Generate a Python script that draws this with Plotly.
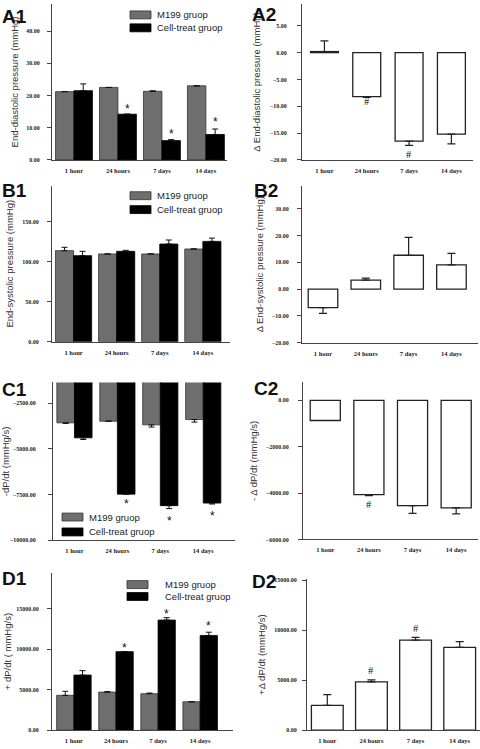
import plotly.graph_objects as go

W, H = 480, 749

# ---------------- data ----------------
categories = ["1 hour", "24 hours", "7 days", "14 days"]
group_names = ["M199 gruop", "Cell-treat gruop"]

# A1: end-diastolic pressure (mmHg)
a1_m199 = [21.2, 22.5, 21.3, 23.0]
a1_m199_err = [0.0, 0.0, 0.15, 0.0]
a1_cell = [21.5, 14.2, 6.0, 7.9]
a1_cell_err = [2.1, 0.0, 0.3, 1.7]
a1_star = [None, 16.6, 8.9, 12.6]

# A2: delta end-diastolic pressure
a2_delta = [0.2, -8.2, -16.5, -15.2]
a2_err = [2.0, 0.15, 0.8, 1.8]
a2_hash = [None, -9.1, -18.9, None]

# B1: end-systolic pressure (mmHg)
b1_m199 = [113.6, 109.5, 109.5, 115.7]
b1_m199_err = [4.2, 0.0, 0.0, 0.0]
b1_cell = [107.4, 112.8, 121.9, 125.2]
b1_cell_err = [5.4, 1.2, 5.0, 4.1]

# B2: delta end-systolic pressure
b2_delta = [-6.9, 3.3, 12.6, 9.0]
b2_err = [2.2, 0.8, 6.7, 4.3]

# C1: -dP/dt (mmHg/s)
c1_m199 = [-3570, -3480, -3680, -3390]
c1_m199_err = [30, 0, 120, 140]
c1_cell = [-4390, -7470, -8100, -7960]
c1_cell_err = [90, 0, 160, 50]
c1_star = [None, -7850, -8750, -8515]

# C2: -delta dP/dt
c2_delta = [-870, -4070, -4540, -4640]
c2_err = [0, 40, 340, 260]
c2_hash = [None, -4500, None, None]

# D1: +dP/dt (mmHg/s)
d1_m199 = [4300, 4700, 4500, 3500]
d1_m199_err = [500, 60, 80, 0]
d1_cell = [6800, 9700, 13600, 11700]
d1_cell_err = [550, 0, 300, 400]
d1_star = [None, 10580, 14670, 13240]

# D2: +delta dP/dt
d2_delta = [2480, 4830, 9000, 8280]
d2_err = [1060, 200, 270, 560]
d2_hash = [None, 5920, 10150, None]

# ---------------- style ----------------
GRAY = "#6e6e6e"
AXC = "#444444"
TXT = "#222222"


def px_x(p):
    return p / W


def px_y(p):
    return 1 - p / H


fig = go.Figure()
annotations = []
shapes = []

# panel layout: name, x px [l, r], y px [top, bottom], y range, dtick, xrange, title, title standoff, ticklabel standoff
panels = [
    ("A1", (52, 227), (2, 159), [0, 48.4], 10, [-0.5, 3.48], "End-diastolic pressure (mmHg)", 5, 6),
    ("A2", (302, 473), (2, 159), [-20, 9.07], 5, [-0.53, 3.51], "Δ End-diastolic pressure (mmHg)", 7, 9),
    ("B1", (52, 230), (185, 342), [0, 194.6], 50, [-0.5, 3.63], "End-systolic pressure (mmHg)", 6, 7),
    ("B2", (302, 478), (185, 343), [-20, 38.5], 10, [-0.49, 3.62], "Δ End-systolic pressure (mmHg)", 6, 7),
    ("C1", (53, 235), (383, 542), [-10000, -1359], 2500, [-0.5, 3.74], "-dP/dt (mmHg/s)", 2, 11),
    ("C2", (303, 478), (383, 541), [-6000, 771], 2000, [-0.51, 3.5], "- Δ dP/dt (mmHg/s)", 6, 8),
    ("D1", (52, 233), (575, 733), [0, 19400], 5000, [-0.52, 3.78], "+ dP/dt ( mmHg/s)", 2, 7),
    ("D2", (307, 480), (581, 733), [0, 15100], 5000, [-0.46, 3.46], "+Δ dP/dt (mmHg/s)", 6, 4),
]

label_pos = {"A1": (0, 15), "A2": (250, 13), "B1": (0, 190), "B2": (252, 190),
             "C1": (0, 390), "C2": (252, 389), "D1": (0, 580), "D2": (250, 583)}

layout_axes = {}
for i, (name, xr, yr, rng, dt, xrng, title, stand, lstand) in enumerate(panels):
    n = i + 1
    xk = "xaxis" if n == 1 else f"xaxis{n}"
    yk = "yaxis" if n == 1 else f"yaxis{n}"
    xref = "x" if n == 1 else f"x{n}"
    yref = "y" if n == 1 else f"y{n}"
    layout_axes[xk] = dict(
        domain=[px_x(xr[0]), px_x(xr[1])], anchor=yref, type="category",
        categoryorder="array", categoryarray=categories, range=xrng,
        showline=True, linecolor=AXC, linewidth=1, ticks="", showgrid=False,
        zeroline=False, ticklabelstandoff=4,
        tickfont=dict(family="Liberation Serif", size=6.5, color=TXT, weight="bold"),
    )
    layout_axes[yk] = dict(
        domain=[px_y(yr[1]), px_y(yr[0])], anchor=xref, range=rng, dtick=dt, tick0=0,
        tickformat=".2f", ticks="outside", ticklen=4, tickwidth=1, tickcolor=AXC,
        showline=True, linecolor=AXC, linewidth=1, showgrid=False, zeroline=False,
        ticklabelstandoff=lstand,
        tickfont=dict(family="Liberation Serif", size=6, color=TXT, weight="bold"),
        title=dict(text=title, standoff=stand,
                   font=dict(family="Liberation Sans", size=9.5, color="#333333")),
    )
    lp = label_pos[name]
    annotations.append(dict(text=f"<b>{name}</b>", x=px_x(lp[0]), y=px_y(lp[1]),
                            xref="paper", yref="paper", xanchor="left", yanchor="middle",
                            showarrow=False,
                            font=dict(family="Liberation Sans", size=19, color="#111111")))


def err(up, down):
    return dict(type="data", symmetric=False, array=up, arrayminus=down,
                color="#111111", thickness=1, width=3)


def grouped(n, m, m_err, c, c_err, w, negative=False):
    xref = "x" if n == 1 else f"x{n}"
    yref = "y" if n == 1 else f"y{n}"
    zeros = [0] * len(categories)
    for vals, e, color, lc, off in [(m, m_err, GRAY, "#333333", -w), (c, c_err, "#000000", "#000000", 0)]:
        fig.add_trace(go.Bar(
            x=categories, y=vals, width=w, offset=off, xaxis=xref, yaxis=yref,
            marker=dict(color=color, line=dict(color=lc, width=0.8)),
            error_y=err(zeros, e) if negative else err(e, zeros),
            showlegend=False,
        ))


def single(n, vals, e, w):
    xref = "x" if n == 1 else f"x{n}"
    yref = "y" if n == 1 else f"y{n}"
    up = [e[i] if vals[i] >= 0 else 0 for i in range(len(vals))]
    down = [e[i] if vals[i] < 0 else 0 for i in range(len(vals))]
    fig.add_trace(go.Bar(
        x=categories, y=vals, width=w, xaxis=xref, yaxis=yref,
        marker=dict(color="#ffffff", line=dict(color="#222222", width=1.3)),
        error_y=dict(type="data", symmetric=False, array=up, arrayminus=down,
                     color="#222222", thickness=1.2, width=4),
        showlegend=False,
    ))


grouped(1, a1_m199, a1_m199_err, a1_cell, a1_cell_err, 0.42)
single(2, a2_delta, a2_err, 0.66)
grouped(3, b1_m199, b1_m199_err, b1_cell, b1_cell_err, 0.42)
single(4, b2_delta, b2_err, 0.69)
grouped(5, c1_m199, c1_m199_err, c1_cell, c1_cell_err, 0.41, negative=True)
single(6, c2_delta, c2_err, 0.69)
grouped(7, d1_m199, d1_m199_err, d1_cell, d1_cell_err, 0.41)
single(8, d2_delta, d2_err, 0.72)


def marks(n, ys, symbol, dx, size, yshift, family):
    xref = "x" if n == 1 else f"x{n}"
    yref = "y" if n == 1 else f"y{n}"
    for i, yv in enumerate(ys):
        if yv is None:
            continue
        annotations.append(dict(text=symbol, x=i + dx, y=yv, xref=xref, yref=yref,
                                showarrow=False, xanchor="center", yanchor="middle",
                                yshift=yshift,
                                font=dict(family=family, size=size, color="#111111")))


marks(1, a1_star, "*", 0.21, 12, -3, "Liberation Sans")
marks(5, c1_star, "*", 0.205, 12, -3, "Liberation Sans")
marks(7, d1_star, "*", 0.205, 12, -3, "Liberation Sans")
marks(2, a2_hash, "#", 0, 10.5, 0, "Liberation Serif")
marks(6, c2_hash, "#", 0, 10.5, 0, "Liberation Serif")
marks(8, d2_hash, "#", 0, 10.5, 0, "Liberation Serif")

# legends (swatch + label) for the grouped panels
legend_pos = [  # box x0, text x, centre y of first item, item spacing
    (130, 155, 13, 13),
    (130, 155, 195, 14),
    (62, 87, 518.5, 15),
    (127, 163, 586.5, 12),
]
for (bx, tx, yc, sp) in legend_pos:
    for k, (name, color, lc) in enumerate(zip(group_names, [GRAY, "#000000"], ["#333333", "#000000"])):
        y = yc + k * sp
        shapes.append(dict(type="rect", xref="paper", yref="paper",
                           x0=px_x(bx), x1=px_x(bx + 21), y0=px_y(y + 4), y1=px_y(y - 4),
                           fillcolor=color, line=dict(color=lc, width=0.8)))
        annotations.append(dict(text=name, x=px_x(tx), y=px_y(y), xref="paper", yref="paper",
                                xanchor="left", yanchor="middle", showarrow=False,
                                font=dict(family="Liberation Sans", size=9.5, color=TXT)))

fig.update_layout(
    width=W, height=H, margin=dict(l=0, r=0, t=0, b=0),
    paper_bgcolor="white", plot_bgcolor="white",
    barmode="overlay", showlegend=False,
    annotations=annotations, shapes=shapes,
    **layout_axes,
)

fig.write_html(
    "out.html",
    config={"displayModeBar": False},
    post_script="document.body.style.margin='0';document.body.style.overflow='hidden';",
)
